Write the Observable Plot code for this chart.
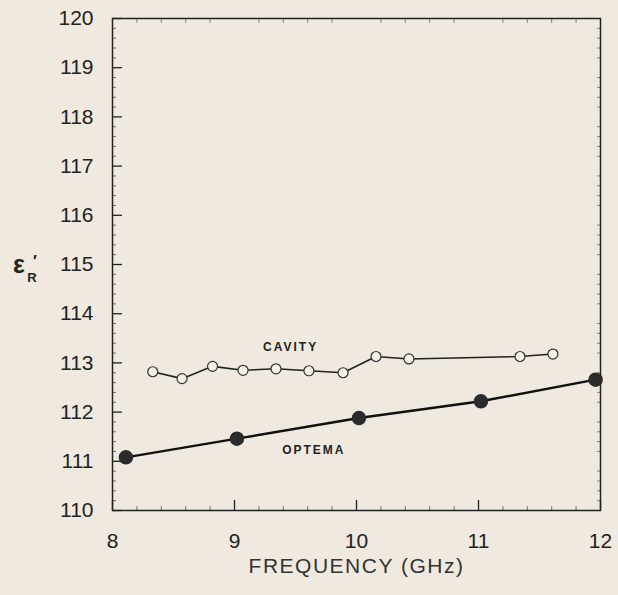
<!DOCTYPE html>
<html><head><meta charset="utf-8">
<script src="https://cdn.jsdelivr.net/npm/d3@7"></script>
<script src="https://cdn.jsdelivr.net/npm/@observablehq/plot@0.6"></script>
<style>
html,body{margin:0;padding:0;background:#efe9df;}
#chart svg{display:block;}
</style></head><body><div id="chart"></div>
<script>
// Data
const cavityFreq = [8.33, 8.57, 8.82, 9.07, 9.34, 9.61, 9.89, 10.16, 10.43, 11.34, 11.61];
const cavityEps  = [112.82, 112.68, 112.93, 112.85, 112.88, 112.84, 112.80, 113.13, 113.08, 113.13, 113.18];
const optemaFreq = [8.11, 9.02, 10.02, 11.02, 11.96];
const optemaEps  = [111.08, 111.46, 111.88, 112.22, 112.66];
const xTicks = [8, 9, 10, 11, 12];
const yTicks = [110, 111, 112, 113, 114, 115, 116, 117, 118, 119, 120];
const xMinor = [8.2, 8.4, 8.6, 8.8, 9.2, 9.4, 9.6, 9.8, 10.2, 10.4, 10.6, 10.8, 11.2, 11.4, 11.6, 11.8];
const yMinor = yTicks.slice(0, -1).flatMap(v => [0.2, 0.4, 0.6, 0.8].map(d => +(v + d).toFixed(1)));
const seriesNames = ["CAVITY", "OPTEMA"];
const labelFreq = [9.46, 9.65];
const labelEps = [113.33, 111.22];

const cavity = cavityFreq.map((f, i) => ({f, e: cavityEps[i]}));
const optema = optemaFreq.map((f, i) => ({f, e: optemaEps[i]}));
const labels = seriesNames.map((t, i) => ({t, f: labelFreq[i], e: labelEps[i]}));
const blank = () => "";
const ink = "#222";
const fmt = d3.format("d");

const plot = Plot.plot({
  width: 618, height: 595,
  marginLeft: 112, marginRight: 18, marginTop: 18, marginBottom: 85,
  style: {background: "transparent", fontFamily: "'Liberation Sans', Arial, sans-serif", color: ink},
  x: {domain: [8, 12]},
  y: {domain: [110, 120]},
  marks: [
    Plot.axisX({ticks: xTicks, tickSize: 0, tickPadding: 23, fontSize: 21, tickFormat: fmt, label: null}),
    Plot.axisX({ticks: xTicks, tickSize: 10, dy: -10, tickFormat: blank, label: null, strokeWidth: 1.3}),
    Plot.axisX({ticks: xMinor, tickSize: 4, dy: -4, tickFormat: blank, label: null, strokeOpacity: 0.6}),
    Plot.axisX({anchor: "top", ticks: xMinor, tickSize: 4, dy: 4, tickFormat: blank, label: null, strokeOpacity: 0.5}),
    Plot.axisY({ticks: yTicks, tickSize: 0, tickPadding: 19, fontSize: 21, tickFormat: fmt, label: null}),
    Plot.axisY({ticks: yTicks, tickSize: 10, dx: 10, tickFormat: blank, label: null, strokeWidth: 1.3}),
    Plot.axisY({ticks: yMinor, tickSize: 4, dx: 4, tickFormat: blank, label: null, strokeOpacity: 0.6}),
    Plot.axisY({anchor: "right", ticks: yMinor, tickSize: 4, dx: -4, tickFormat: blank, label: null, strokeOpacity: 0.5}),
    Plot.frame({stroke: ink, strokeWidth: 1.5}),
    Plot.line(cavity, {x: "f", y: "e", stroke: ink, strokeWidth: 1.6}),
    Plot.dot(cavity, {x: "f", y: "e", r: 5, fill: "#f4efe7", stroke: "#333", strokeWidth: 1.2}),
    Plot.line(optema, {x: "f", y: "e", stroke: "#111", strokeWidth: 2.4}),
    Plot.dot(optema, {x: "f", y: "e", r: 6.5, fill: "#2b2b2b", stroke: "#2b2b2b"}),
    Plot.text(labels, {x: "f", y: "e", text: "t", fontSize: 12, fontWeight: "bold", fill: ink}),
    Plot.text(["FREQUENCY (GHz)"], {frameAnchor: "bottom", dy: 62, fontSize: 21, fill: "#333"})
  ]
});

document.getElementById("chart").appendChild(plot);

const svg = d3.select(plot);
svg.selectAll("text").filter(function() { return seriesNames.includes(this.textContent); })
  .style("letter-spacing", "2px");
svg.selectAll("text").filter(function() { return this.textContent === "FREQUENCY (GHz)"; })
  .style("letter-spacing", "1.5px");

// Y-axis label: epsilon prime, subscript R
const yl = svg.append("g").attr("fill", ink).attr("font-family", "'Liberation Sans', Arial, sans-serif");
yl.append("text").attr("x", 19).attr("y", 273).attr("font-size", 25).attr("font-weight", "bold").text("ε");
yl.append("text").attr("x", 35).attr("y", 267).attr("font-size", 16).attr("font-weight", "bold").text("′");
yl.append("text").attr("x", 32).attr("y", 282).attr("font-size", 13).attr("font-weight", "bold").text("R");
</script></body></html>
